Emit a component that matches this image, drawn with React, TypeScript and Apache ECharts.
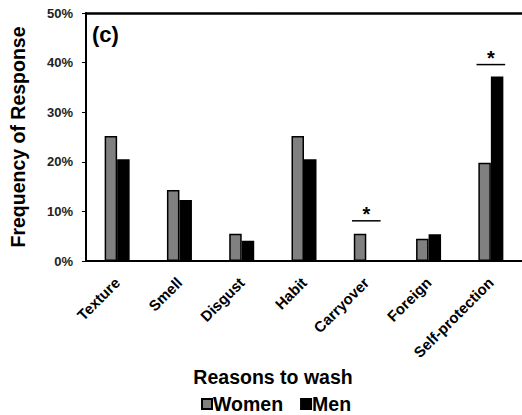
import React, { useEffect, useRef } from "react";
import * as echarts from "echarts";

const categories = ["Texture", "Smell", "Disgust", "Habit", "Carryover", "Foreign", "Self-protection"];
const women = [25.2, 14.3, 5.5, 25.2, 5.5, 4.5, 19.8];
const men = [20.5, 12.3, 4.1, 20.5, 0, 5.4, 37.2];
const significance = [
  ["Carryover", 8.1],
  ["Self-protection", 39.6],
];
const yTicks = { min: 0, max: 50, interval: 10 };

const FONT = "'Liberation Sans', Arial, sans-serif";

export default function App() {
  const ref = useRef<HTMLDivElement>(null);
  useEffect(() => {
    document.body.style.margin = "0";
    const chart = echarts.init(ref.current!, null, { renderer: "svg" });
    chart.setOption({
      animation: false,
      backgroundColor: "#ffffff",
      textStyle: { fontFamily: FONT },
      grid: {
        left: 83,
        top: 13,
        right: -6,
        bottom: 154,
      },
      graphic: [
        {
          type: "text",
          left: 92,
          top: 23,
          style: { text: "(c)", font: `bold 22px ${FONT}`, fill: "#000" },
        },
      ],
      legend: {
        top: 389,
        left: 196,
        itemWidth: 10,
        itemHeight: 10,
        itemGap: 17,
        icon: "rect",
        data: ["Women", "Men"],
        textStyle: { fontFamily: FONT, fontWeight: "bold", fontSize: 19.5, color: "#000", padding: [0, 0, 0, -4] },
      },
      xAxis: [
        {
          type: "category",
          data: categories,
          name: "Reasons to wash",
          nameLocation: "middle",
          nameGap: 104,
          nameTextStyle: {
            fontFamily: FONT,
            fontWeight: "bold",
            fontSize: 19.5,
            color: "#000",
            padding: [0, 62, 0, 0],
          },
          axisLine: { lineStyle: { color: "#000", width: 2 } },
          axisTick: { show: false },
          axisLabel: {
            rotate: 45,
            interval: 0,
            fontFamily: FONT,
            fontWeight: "bold",
            fontSize: 15,
            color: "#000",
            margin: 19,
          },
        },
        {
          type: "category",
          data: categories,
          position: "top",
          axisLine: { lineStyle: { color: "#000", width: 2.5 } },
          axisTick: { show: false },
          axisLabel: { show: false },
        },
      ],
      yAxis: {
        type: "value",
        min: yTicks.min,
        max: yTicks.max,
        interval: yTicks.interval,
        name: "Frequency of Response",
        nameLocation: "middle",
        nameGap: 58,
        nameTextStyle: { fontFamily: FONT, fontWeight: "bold", fontSize: 19.5, color: "#000" },
        axisLine: { show: true, lineStyle: { color: "#000", width: 2 } },
        axisTick: { show: true, length: 4, lineStyle: { color: "#000" } },
        splitLine: { show: false },
        axisLabel: {
          formatter: "{value}%",
          fontFamily: FONT,
          fontWeight: "bold",
          fontSize: 13,
          color: "#222",
          margin: 13,
        },
      },
      series: [
        {
          name: "Women",
          type: "bar",
          data: women,
          barWidth: 12.5,
          barGap: "0%",
          itemStyle: { color: "#808080", borderColor: "#000", borderWidth: 1.5 },
        },
        {
          name: "Men",
          type: "bar",
          data: men,
          barWidth: 12.5,
          itemStyle: { color: "#000", borderColor: "#000", borderWidth: 1.5 },
        },
        {
          name: "sig",
          type: "custom",
          data: significance.map(([c, v]) => [categories.indexOf(c as string), v]),
          renderItem: (params: any, api: any) => {
            const p = api.coord([api.value(0), api.value(1)]);
            const half = api.size([1, 0])[0] * 0.23;
            return {
              type: "group",
              children: [
                {
                  type: "line",
                  shape: { x1: p[0] - half, y1: p[1], x2: p[0] + half, y2: p[1] },
                  style: { stroke: "#000", lineWidth: 1.5 },
                },
                {
                  type: "text",
                  x: p[0],
                  y: p[1] + 3,
                  style: {
                    text: "*",
                    font: `bold 20px ${FONT}`,
                    fill: "#000",
                    textAlign: "center",
                    textVerticalAlign: "bottom",
                  },
                },
              ],
            };
          },
          z: 5,
        },
      ],
    });
    return () => chart.dispose();
  }, []);
  return <div ref={ref} style={{ width: 522, height: 415 }} />;
}
